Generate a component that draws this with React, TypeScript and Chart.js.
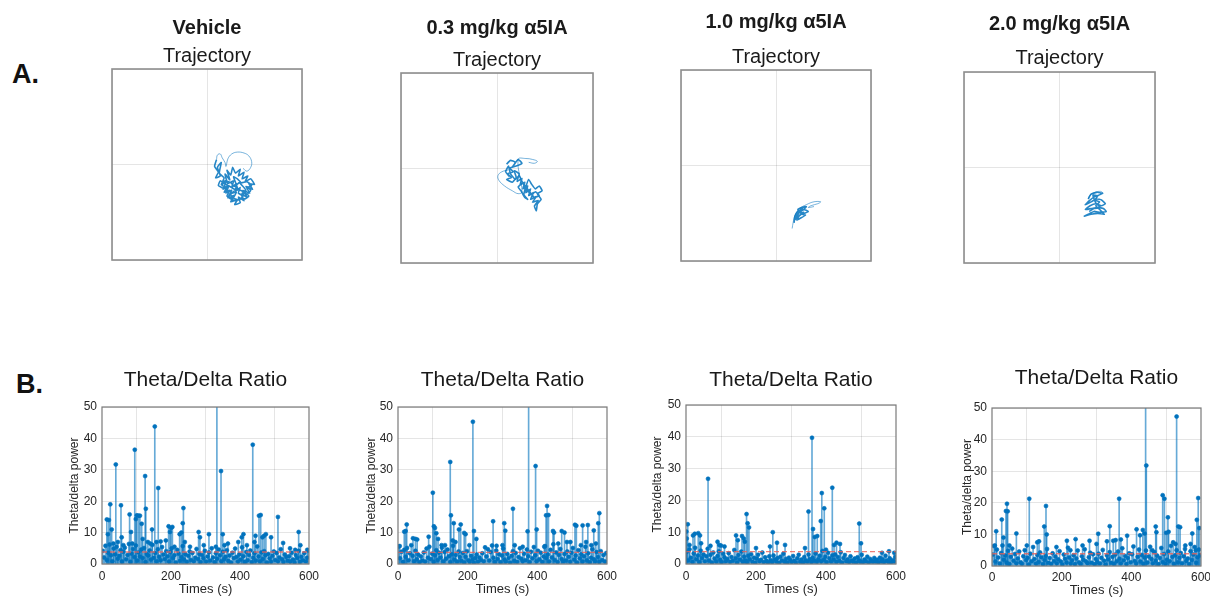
import React, { useEffect, useRef } from 'react';
import { Chart, registerables } from 'chart.js';

Chart.register(...registerables);

const FONT = '"Liberation Sans", Arial, Helvetica, sans-serif';
const BLUE = 'rgb(0,114,189)';
const TEXT = '#1a1a1a';
const TICK = '#262626';

// ---------------- text ----------------
const PANEL_LABELS = ['A.', 'B.'];
const DOSE_TITLES = ['Vehicle', '0.3 mg/kg α5IA', '1.0 mg/kg α5IA', '2.0 mg/kg α5IA'];
const TRAJ_TITLE = 'Trajectory';
const RATIO_TITLE = 'Theta/Delta Ratio';
const X_LABEL = 'Times (s)';
const Y_LABEL = 'Theta/delta power';

// ---------------- axis ranges / ticks ----------------
const TIME_MIN = 0;
const TIME_MAX = 600;
const TIME_TICK_STEP = 200;
const RATIO_MIN = 0;
const RATIO_MAX = 50;
const RATIO_TICK_STEP = 10;
const ARENA_MIN = -1;
const ARENA_MAX = 1;
const SAMPLE_STEP_S = 4; // baseline samples every 4 s, starting at 2 s

// ---------------- trajectories (arena coords, -1..1) ----------------
// dense core of each track
const TRAJ_VEHICLE_CORE: number[][] = [
  [0.1, 0.05], [0.08, -0.02], [0.12, -0.08], [0.09, -0.14], [0.14, -0.12], [0.11, -0.03], [0.15, 0.02], [0.13, -0.09],
  [0.18, -0.14], [0.15, -0.21], [0.2, -0.18], [0.17, -0.26], [0.23, -0.22], [0.2, -0.3], [0.26, -0.27], [0.22, -0.35],
  [0.29, -0.32], [0.25, -0.39], [0.32, -0.37], [0.29, -0.42], [0.35, -0.4], [0.33, -0.34], [0.39, -0.38], [0.36, -0.31],
  [0.42, -0.34], [0.38, -0.27], [0.45, -0.3], [0.41, -0.23], [0.48, -0.26], [0.44, -0.2], [0.5, -0.21], [0.46, -0.15],
  [0.4, -0.18], [0.43, -0.12], [0.37, -0.15], [0.39, -0.08], [0.33, -0.12], [0.35, -0.05], [0.3, -0.09], [0.27, -0.03],
  [0.25, -0.11], [0.21, -0.06], [0.24, -0.16], [0.19, -0.1], [0.22, -0.2], [0.28, -0.17], [0.26, -0.24], [0.31, -0.2],
  [0.3, -0.28], [0.35, -0.24], [0.33, -0.3], [0.38, -0.33], [0.34, -0.37], [0.28, -0.35], [0.31, -0.29], [0.25, -0.31],
  [0.27, -0.37], [0.21, -0.33], [0.24, -0.27], [0.18, -0.29], [0.21, -0.24], [0.16, -0.22], [0.19, -0.17], [0.25, -0.19],
  [0.29, -0.23], [0.34, -0.19], [0.37, -0.22], [0.41, -0.27], [0.37, -0.3], [0.42, -0.31], [0.46, -0.27], [0.43, -0.24],
  [0.47, -0.22], [0.42, -0.18], [0.36, -0.19], [0.32, -0.15], [0.28, -0.13], [0.32, -0.25], [0.27, -0.29], [0.23, -0.34],
  [0.3, -0.38], [0.36, -0.35], [0.4, -0.36], [0.44, -0.33], [0.39, -0.29], [0.35, -0.27], [0.29, -0.26], [0.24, -0.23],
  [0.2, -0.21], [0.14, -0.17], [0.12, -0.22], [0.17, -0.25],
];
// sparse excursions of each track
const TRAJ_VEHICLE_OUTER: number[][] = [
  [0.1, 0.05], [0.11, 0.1], [0.14, 0.11], [0.16, 0.07], [0.19, 0.02], [0.2, -0.02], [0.22, 0.06], [0.26, 0.11],
  [0.32, 0.13], [0.39, 0.12], [0.44, 0.09], [0.47, 0.03], [0.46, -0.03], [0.42, -0.07], [0.38, -0.04],
];

const TRAJ_03_CORE: number[][] = [
  [0.1, 0.04], [0.14, 0.08], [0.19, 0.06], [0.16, 0.01], [0.22, 0.09], [0.26, 0.05], [0.2, 0.02], [0.13, 0.0],
  [0.17, -0.04], [0.11, -0.06], [0.15, -0.1], [0.1, -0.12], [0.16, -0.15], [0.2, -0.1], [0.18, -0.03], [0.23, -0.06],
  [0.21, -0.14], [0.26, -0.11], [0.24, -0.18], [0.29, -0.15], [0.27, -0.22], [0.32, -0.19], [0.3, -0.26], [0.35, -0.22],
  [0.33, -0.29], [0.38, -0.26], [0.35, -0.33], [0.41, -0.3], [0.37, -0.36], [0.43, -0.34], [0.39, -0.4], [0.41, -0.45],
  [0.42, -0.38], [0.46, -0.33], [0.42, -0.27], [0.47, -0.24], [0.44, -0.19], [0.4, -0.22], [0.36, -0.17], [0.33, -0.12],
  [0.3, -0.2], [0.28, -0.28], [0.32, -0.33], [0.29, -0.31], [0.25, -0.24], [0.22, -0.2], [0.27, -0.16], [0.34, -0.25],
  [0.39, -0.31], [0.44, -0.29], [0.4, -0.25], [0.36, -0.28], [0.31, -0.23], [0.26, -0.14], [0.23, -0.08], [0.19, -0.12],
  [0.14, -0.06], [0.12, 0.02], [0.09, -0.04], [0.13, -0.09],
];
const TRAJ_03_OUTER: number[][] = [
  [0.12, -0.02], [0.05, -0.04], [0.01, -0.08], [0.02, -0.13], [0.08, -0.19], [0.16, -0.24], [0.22, -0.27], [0.26, -0.25],
  [0.22, 0.09], [0.3, 0.1], [0.37, 0.09], [0.42, 0.07], [0.39, 0.05], [0.33, 0.06],
];

const TRAJ_10_CORE: number[][] = [
  [0.19, -0.6], [0.2, -0.53], [0.23, -0.48], [0.28, -0.45], [0.24, -0.5], [0.21, -0.56], [0.24, -0.53], [0.29, -0.49],
  [0.25, -0.52], [0.22, -0.57], [0.26, -0.55], [0.31, -0.52], [0.27, -0.51], [0.23, -0.46], [0.27, -0.44], [0.32, -0.43],
  [0.28, -0.47], [0.25, -0.49], [0.3, -0.5], [0.34, -0.48], [0.29, -0.46], [0.22, -0.51], [0.2, -0.57],
];
const TRAJ_10_OUTER: number[][] = [
  [0.17, -0.66], [0.18, -0.6], [0.2, -0.52], [0.25, -0.45], [0.32, -0.41], [0.4, -0.38], [0.47, -0.38], [0.44, -0.4],
  [0.37, -0.42], [0.34, -0.44], [0.4, -0.43],
];

const TRAJ_20_CORE: number[][] = [
  [0.3, -0.33], [0.33, -0.28], [0.39, -0.26], [0.45, -0.27], [0.41, -0.29], [0.36, -0.31], [0.31, -0.35], [0.27, -0.39],
  [0.33, -0.36], [0.39, -0.33], [0.44, -0.34], [0.48, -0.38], [0.44, -0.4], [0.38, -0.38], [0.32, -0.4], [0.27, -0.44],
  [0.33, -0.43], [0.4, -0.42], [0.46, -0.43], [0.49, -0.46], [0.43, -0.47], [0.36, -0.46], [0.3, -0.49], [0.26, -0.51],
  [0.33, -0.49], [0.4, -0.48], [0.47, -0.49], [0.42, -0.44], [0.38, -0.4], [0.42, -0.36], [0.37, -0.34], [0.4, -0.3],
  [0.35, -0.29], [0.38, -0.37], [0.43, -0.42], [0.36, -0.43], [0.31, -0.46],
];
const TRAJ_20_OUTER: number[][] = [
  [0.3, -0.33], [0.32, -0.29], [0.37, -0.26], [0.43, -0.25], [0.46, -0.27],
];

// ---------------- theta/delta ratio: baseline samples (every 4 s) ----------------
const BASE_VEHICLE = [
  4.2, 2.1, 5.8, 1.3, 3.6, 6.2, 2.8, 0.9, 4.9, 3.1, 5.5, 1.7, 2.6, 4.4, 0.8,
  3.9, 5.2, 1.5, 2.9, 6.4, 0.7, 3.3, 4.8, 2.2, 5.9, 1.1, 3.7, 2.4, 4.6, 1.9,
  5.1, 0.6, 3.2, 2.7, 4.3, 1.4, 6.1, 2.0, 3.5, 0.9, 4.7, 2.3, 1.2, 5.4, 3.0,
  1.6, 4.1, 2.5, 0.8, 3.8, 5.0, 1.9, 2.8, 0.5, 4.5, 3.3, 1.0, 2.2, 5.7, 1.4,
  3.1, 0.7, 2.6, 4.0, 1.3, 3.5, 0.9, 2.0, 4.8, 1.6, 3.2, 0.6, 2.9, 1.8, 4.2,
  0.8, 2.4, 3.7, 1.1, 5.0, 2.1, 0.6, 3.4, 1.7, 4.6, 2.8, 0.9, 3.9, 1.5, 2.3,
  4.4, 1.0, 2.7, 0.5, 3.6, 1.9, 4.9, 2.2, 0.8, 3.0, 1.4, 5.3, 2.5, 0.7, 3.8,
  1.2, 2.9, 4.3, 0.6, 2.0, 3.4, 1.1, 5.6, 2.4, 0.9, 3.7, 1.6, 4.1, 2.8, 0.5,
  3.2, 1.8, 0.7, 2.6, 4.0, 1.3, 3.5, 0.9, 2.1, 4.7, 1.5, 0.6, 3.0, 2.2, 1.0,
  2.5, 0.8, 3.6, 1.4, 0.5, 2.9, 1.9, 4.2, 0.7, 2.3, 1.2, 3.4, 0.9, 2.0, 4.3,
];
const BASE_03 = [
  5.6, 1.8, 3.9, 0.7, 4.5, 2.3, 5.1, 1.2, 3.4, 6.0, 2.6, 0.9, 4.2, 1.5, 3.0,
  0.6, 2.4, 1.1, 3.7, 0.8, 4.9, 2.0, 5.5, 1.6, 3.3, 0.7, 2.8, 4.4, 1.3, 3.6,
  2.1, 5.2, 0.9, 3.8, 1.7, 4.6, 2.5, 0.6, 3.1, 5.8, 1.4, 2.9, 0.8, 4.0, 2.2,
  1.0, 3.5, 0.5, 2.3, 4.1, 1.2, 0.7, 2.6, 1.5, 0.4, 1.9, 3.0, 0.8, 2.1, 1.3,
  3.4, 0.9, 5.3, 2.4, 4.7, 1.1, 3.8, 5.9, 2.0, 0.7, 4.3, 1.6, 3.1, 0.6, 2.7,
  4.9, 1.4, 0.8, 3.2, 1.9, 0.5, 2.6, 4.1, 1.0, 3.5, 0.7, 2.2, 5.0, 1.7, 0.9,
  3.3, 1.2, 4.6, 2.5, 0.6, 3.9, 1.8, 5.4, 2.8, 0.9, 4.2, 1.5, 3.6, 0.7, 2.4,
  5.7, 1.9, 3.0, 0.8, 4.5, 2.1, 6.3, 1.3, 3.7, 0.6, 2.9, 4.8, 1.6, 0.9, 3.2,
  1.1, 4.0, 2.3, 0.7, 3.6, 5.1, 1.4, 2.7, 0.5, 4.4, 1.8, 3.1, 0.8, 2.5, 5.5,
  1.2, 3.4, 0.6, 2.0, 4.7, 1.5, 0.9, 3.8, 2.2, 0.7, 4.1, 1.3, 2.9, 0.8, 3.5,
];
const BASE_10 = [
  3.8, 1.2, 4.6, 2.0, 0.7, 3.3, 5.1, 1.5, 2.7, 0.6, 4.2, 1.9, 3.0, 0.9, 2.4,
  4.8, 1.1, 2.9, 0.5, 3.6, 1.7, 0.8, 2.5, 4.0, 1.3, 0.6, 3.2, 2.1, 0.9, 1.6,
  3.4, 0.7, 2.2, 1.0, 4.4, 1.8, 0.5, 2.8, 1.4, 3.9, 0.8, 2.3, 1.1, 0.6, 2.6,
  1.5, 3.1, 0.7, 2.0, 0.4, 1.7, 2.9, 0.9, 1.3, 3.6, 0.6, 2.1, 1.0, 0.5, 2.4,
  1.2, 0.6, 2.7, 1.5, 0.8, 1.9, 0.4, 2.3, 1.1, 3.2, 0.7, 1.6, 0.5, 2.0, 1.3,
  0.6, 2.5, 1.0, 0.4, 1.8, 2.9, 0.7, 1.4, 0.5, 2.2, 1.2, 0.8, 3.0, 1.6, 0.6,
  2.0, 1.1, 3.3, 0.7, 1.5, 2.6, 0.9, 4.1, 1.3, 2.3, 0.6, 3.5, 1.8, 0.8, 2.7,
  1.4, 3.0, 0.7, 2.2, 1.0, 3.7, 0.5, 1.9, 2.8, 0.9, 1.5, 0.6, 2.4, 1.1, 0.7,
  1.7, 0.5, 2.1, 1.2, 0.8, 2.9, 0.6, 1.4, 0.9, 2.3, 0.5, 1.6, 1.0, 0.7, 1.9,
  0.8, 1.3, 0.5, 2.0, 0.9, 1.5, 0.6, 2.6, 1.1, 0.7, 1.8, 0.5, 1.2, 0.9, 2.2,
];
const BASE_20 = [
  3.6, 6.3, 1.4, 5.2, 2.7, 0.8, 4.1, 6.5, 2.0, 3.3, 1.1, 4.8, 0.6, 2.9, 5.5,
  1.7, 3.8, 0.9, 2.4, 4.6, 1.2, 0.7, 3.1, 5.0, 1.9, 2.6, 0.5, 3.9, 1.5, 6.0,
  2.2, 0.8, 3.5, 1.3, 4.3, 2.8, 0.6, 1.9, 3.2, 5.4, 1.0, 2.5, 0.7, 4.0, 1.6,
  3.0, 0.9, 2.1, 4.7, 1.4, 0.5, 3.6, 2.3, 1.1, 5.8, 2.7, 0.8, 1.8, 3.4, 0.6,
  2.4, 4.9, 1.2, 0.7, 3.1, 2.0, 5.3, 1.5, 0.9, 2.8, 4.2, 1.0, 3.7, 0.6, 2.2,
  1.3, 3.9, 0.8, 2.6, 5.1, 1.7, 0.5, 3.3, 2.1, 4.4, 1.0, 2.9, 0.7, 3.6, 1.5,
  4.6, 2.3, 0.9, 5.6, 1.8, 3.2, 0.6, 2.5, 4.0, 1.2, 3.7, 6.2, 1.6, 0.8, 2.9,
  5.2, 1.4, 3.5, 0.7, 2.7, 4.9, 1.1, 3.0, 6.1, 2.2, 0.9, 4.4, 1.7, 3.3, 0.6,
  2.5, 5.7, 1.3, 3.8, 0.8, 2.0, 4.6, 1.5, 6.4, 2.9, 0.7, 3.4, 5.0, 1.2, 2.6,
  4.1, 0.9, 3.1, 5.4, 1.6, 2.4, 0.6, 4.7, 1.9, 3.6, 6.0, 1.0, 2.8, 5.2, 3.4,
];

// ---------------- theta/delta ratio: peaks [time s, ratio] ----------------
const PEAKS_VEHICLE: number[][] = [
  [14, 14.2], [17, 9.5], [20, 14.0], [24, 19.0], [28, 11.0], [33, 6.5], [40, 31.7], [46, 7], [55, 18.7], [57, 8.5],
  [62, 6], [80, 15.8], [84, 10.2], [88, 6.5], [95, 36.4], [98, 14.3], [101, 15.5], [106, 15.4], [110, 15.4], [115, 12.8],
  [118, 8], [125, 28.0], [127, 17.6], [133, 7], [140, 6.5], [145, 11.0], [153, 43.8], [158, 7], [163, 24.2], [170, 7.2],
  [185, 7.5], [193, 12.0], [197, 10.2], [200, 11.5], [204, 11.8], [210, 5.5], [225, 9.5], [230, 10], [234, 13.0], [236, 17.8],
  [240, 7], [255, 5.5], [280, 10.2], [284, 8.5], [295, 6], [310, 9.5], [330, 5.5], [333, 60], [345, 29.6], [350, 9.5],
  [355, 6], [365, 6.5], [395, 7], [405, 8.5], [410, 9.5], [420, 6], [437, 38.0], [442, 7], [445, 9.0], [455, 15.4],
  [460, 15.6], [465, 8.5], [470, 9.0], [475, 9.5], [490, 8.5], [510, 15.0], [525, 6.7], [545, 5], [560, 4.5], [570, 10.2],
  [575, 6], [595, 4.5],
];
const PEAKS_03: number[][] = [
  [5, 5.7], [18, 10.3], [22, 10.5], [25, 12.6], [43, 8.2], [50, 8], [55, 7.8], [88, 8.7], [100, 22.7], [103, 12],
  [106, 11.5], [110, 9.8], [115, 8], [125, 6], [135, 6], [150, 32.5], [152, 15.5], [157, 7.5], [160, 13], [165, 7],
  [175, 11], [180, 12.6], [190, 9.9], [194, 9.5], [205, 6], [215, 45.3], [218, 10.5], [225, 8], [273, 13.6], [283, 5.8],
  [300, 6], [305, 13], [308, 10.6], [330, 17.6], [335, 6], [358, 5.5], [372, 10.4], [375, 60], [395, 31.2], [398, 11],
  [420, 5.5], [425, 15.5], [428, 18.5], [432, 15.6], [445, 10.5], [448, 10], [460, 6.5], [470, 10.5], [478, 10], [485, 7],
  [495, 7], [508, 12.5], [512, 12.2], [525, 6], [530, 12.3], [540, 7], [545, 12.4], [555, 6], [562, 10.7], [568, 6.5],
  [575, 13], [578, 16.2],
];
const PEAKS_10: number[][] = [
  [1, 10.2], [2, 8], [5, 12.5], [10, 6], [20, 9], [25, 9.5], [35, 9.7], [40, 9], [43, 6.5], [63, 26.8],
  [70, 5.7], [90, 7], [95, 6], [100, 5.8], [110, 5.5], [143, 9], [148, 7.5], [160, 8.8], [165, 8], [168, 7],
  [173, 15.7], [176, 12.8], [180, 11.5], [200, 5], [240, 5.5], [248, 10], [260, 6.7], [283, 6], [340, 5], [350, 16.5],
  [360, 39.7], [363, 11], [368, 8.5], [375, 8.8], [385, 13.5], [388, 22.3], [395, 17.5], [400, 4.5], [418, 24], [423, 6],
  [430, 6.7], [440, 6.3], [495, 12.7], [500, 6.5], [560, 3.5], [580, 4], [595, 3.5],
];
const PEAKS_20: number[][] = [
  [8, 6.5], [12, 11], [28, 14.7], [33, 9], [40, 17.4], [43, 19.7], [45, 17.3], [50, 6.5], [70, 10.3], [100, 6.5],
  [107, 21.3], [130, 7.5], [135, 7.8], [150, 12.5], [155, 19], [157, 10], [185, 6], [215, 8], [225, 5], [240, 8.5],
  [260, 6.5], [280, 8], [300, 7], [305, 10.2], [330, 7.8], [338, 12.6], [348, 8], [355, 8.2], [365, 21.3], [370, 8.4],
  [388, 9.6], [415, 11.6], [425, 9.7], [433, 11.4], [438, 10.3], [441, 60], [443, 31.8], [460, 5], [470, 12.5], [472, 10.7],
  [490, 22.4], [495, 21.3], [500, 10.5], [505, 15.4], [507, 10.8], [520, 7.5], [527, 7], [530, 47.3], [535, 12.5], [540, 12.3],
  [555, 6.5], [570, 7], [575, 10.3], [585, 5], [588, 14.6], [592, 21.5], [595, 12],
];

// threshold (red dashed line) per group
const THRESHOLDS = [3.8, 3.7, 3.9, 3.9];

// ---------------- helpers ----------------
const framePlugin = {
  id: 'frame',
  afterDraw(chart: any, _args: any, opts: any) {
    const { ctx, chartArea: a } = chart;
    ctx.save();
    ctx.strokeStyle = opts.color || '#888';
    ctx.lineWidth = opts.width || 1;
    ctx.strokeRect(a.left, a.top, a.right - a.left, a.bottom - a.top);
    ctx.restore();
  },
};

function ChartBox(props: { left: number; top: number; width: number; height: number; make: () => any }) {
  const ref = useRef<HTMLCanvasElement>(null);
  useEffect(() => {
    const chart = new Chart(ref.current as HTMLCanvasElement, props.make());
    return () => chart.destroy();
  }, []);
  const { left, top, width, height } = props;
  return (
    <div style={{ position: 'absolute', left, top, width, height }}>
      <canvas ref={ref} width={width} height={height} style={{ width, height, display: 'block' }} />
    </div>
  );
}

type TrajPanel = {
  title: string; core: number[][]; outer: number[][];
  boxL: number; boxW: number; boxB: number;
  tPad: number; sPadT: number; sPadB: number;
};

const TRAJ_PANELS: TrajPanel[] = [
  { title: DOSE_TITLES[0], core: TRAJ_VEHICLE_CORE, outer: TRAJ_VEHICLE_OUTER, boxL: 112, boxW: 190, boxB: 260, tPad: 16, sPadT: 4, sPadB: 1 },
  { title: DOSE_TITLES[1], core: TRAJ_03_CORE, outer: TRAJ_03_OUTER, boxL: 401, boxW: 192, boxB: 263, tPad: 16, sPadT: 8, sPadB: 1 },
  { title: DOSE_TITLES[2], core: TRAJ_10_CORE, outer: TRAJ_10_OUTER, boxL: 681, boxW: 190, boxB: 261, tPad: 10, sPadT: 11, sPadB: 1 },
  { title: DOSE_TITLES[3], core: TRAJ_20_CORE, outer: TRAJ_20_OUTER, boxL: 964, boxW: 191, boxB: 263, tPad: 12, sPadT: 10, sPadB: 2 },
];

const SIDE = 20;
const BOT = 2;

function trajConfig(p: TrajPanel) {
  const axisCommon = {
    type: 'linear',
    min: ARENA_MIN,
    max: ARENA_MAX,
    ticks: { display: false, stepSize: 1 },
    grid: { color: 'rgba(0,0,0,0.1)', drawTicks: false, lineWidth: 1 },
    border: { display: false },
  };
  return {
    type: 'scatter',
    data: {
      datasets: [
        {
          data: p.core.map(([x, y]) => ({ x, y })),
          showLine: true,
          borderColor: 'rgba(0,114,189,0.85)',
          borderWidth: 1.6,
          pointRadius: 0,
          tension: 0.15,
        },
        {
          data: p.outer.map(([x, y]) => ({ x, y })),
          showLine: true,
          borderColor: 'rgba(0,114,189,0.6)',
          borderWidth: 0.9,
          pointRadius: 0,
          tension: 0.4,
        },
      ],
    },
    options: {
      responsive: false,
      animation: false,
      devicePixelRatio: 1,
      layout: { padding: { left: SIDE, right: SIDE, top: 0, bottom: BOT } },
      plugins: {
        legend: { display: false },
        tooltip: { enabled: false },
        title: {
          display: true, text: p.title, color: TEXT, fullSize: false,
          font: { family: FONT, size: 20, weight: 'bold', lineHeight: 1.2 },
          padding: { top: p.tPad, bottom: 0 },
        },
        subtitle: {
          display: true, text: TRAJ_TITLE, color: TEXT, fullSize: false,
          font: { family: FONT, size: 20, weight: 'normal', lineHeight: 1.2 },
          padding: { top: p.sPadT, bottom: p.sPadB },
        },
        frame: { color: '#8e8e8e', width: 1.6 },
      },
      scales: {
        x: { ...axisCommon, afterFit: (s: any) => { s.height = 0; s.paddingLeft = 0; s.paddingRight = 0; } },
        y: { ...axisCommon, afterFit: (s: any) => { s.width = 0; s.paddingTop = 0; s.paddingBottom = 0; } },
      },
    },
    plugins: [framePlugin],
  };
}

type RatioPanel = {
  base: number[]; peaks: number[][]; threshold: number;
  canvasL: number; canvasT: number; plotL: number; plotR: number; plotT: number; plotB: number; canvasR: number;
  tPad: number; yTitleX: number; xTickY: number; xTitleY: number;
};

const RATIO_PANELS: RatioPanel[] = [
  { base: BASE_VEHICLE, peaks: PEAKS_VEHICLE, threshold: THRESHOLDS[0], canvasL: 60, canvasT: 360, plotL: 102, plotR: 309, plotT: 407, plotB: 564, canvasR: 325, tPad: 8, yTitleX: 75, xTickY: 577, xTitleY: 589 },
  { base: BASE_03, peaks: PEAKS_03, threshold: THRESHOLDS[1], canvasL: 356, canvasT: 360, plotL: 398, plotR: 607, plotT: 407, plotB: 564, canvasR: 623, tPad: 8, yTitleX: 372, xTickY: 577, xTitleY: 589 },
  { base: BASE_10, peaks: PEAKS_10, threshold: THRESHOLDS[2], canvasL: 644, canvasT: 360, plotL: 686, plotR: 896, plotT: 405, plotB: 564, canvasR: 912, tPad: 8, yTitleX: 658, xTickY: 577, xTitleY: 589 },
  { base: BASE_20, peaks: PEAKS_20, threshold: THRESHOLDS[3], canvasL: 950, canvasT: 360, plotL: 992, plotR: 1201, plotT: 408, plotB: 566, canvasR: 1210, tPad: 6, yTitleX: 968, xTickY: 578, xTitleY: 590 },
];

const CANVAS_BOTTOM = 598;

function ratioConfig(p: RatioPanel) {
  const pts = p.base
    .map((v, i) => ({ x: i * SAMPLE_STEP_S + SAMPLE_STEP_S / 2, y: v }))
    .concat(p.peaks.map(([t, v]) => ({ x: t, y: v })));
  const titleFont = { family: FONT, size: 21, weight: 'normal', lineHeight: 1.2 };
  const titleLH = 21 * 1.2;
  const relTop = p.plotT - p.canvasT;
  const titlePadBottom = Math.max(0, relTop - p.tPad - titleLH);
  const xAxisH = CANVAS_BOTTOM - p.plotB;
  const yAxisW = p.plotL - p.canvasL;
  const tickFont = { family: FONT, size: 12, lineHeight: 1.2 };
  const xTitleFont = { family: FONT, size: 13, lineHeight: 1.2 };
  const yTitleFont = { family: FONT, size: 12, lineHeight: 1.2 };
  return {
    type: 'scatter',
    data: {
      datasets: [
        {
          type: 'line',
          data: [{ x: TIME_MIN, y: p.threshold }, { x: TIME_MAX, y: p.threshold }],
          borderColor: 'rgba(232,96,88,0.8)',
          borderDash: [5, 3],
          borderWidth: 1.4,
          pointRadius: 0,
        },
        {
          type: 'scatter',
          data: pts,
          pointRadius: 2,
          backgroundColor: BLUE,
          borderColor: BLUE,
          borderWidth: 0.6,
        },
        {
          type: 'bar',
          data: pts,
          backgroundColor: 'rgba(0,114,189,0.6)',
          barThickness: 1,
          grouped: false,
        },
      ],
    },
    options: {
      responsive: false,
      animation: false,
      devicePixelRatio: 1,
      layout: { padding: { left: 0, right: p.canvasR - p.plotR, top: 0, bottom: 0 } },
      plugins: {
        legend: { display: false },
        tooltip: { enabled: false },
        title: {
          display: true, text: RATIO_TITLE, color: TEXT, fullSize: false,
          font: titleFont, padding: { top: p.tPad, bottom: titlePadBottom },
        },
        frame: { color: '#7a7a7a', width: 1.2 },
      },
      scales: {
        x: {
          type: 'linear', min: TIME_MIN, max: TIME_MAX, offset: false,
          ticks: { stepSize: TIME_TICK_STEP, color: TICK, font: tickFont, padding: p.xTickY - p.plotB - 7.2, maxRotation: 0, autoSkip: false },
          grid: { color: 'rgba(0,0,0,0.1)', drawTicks: false },
          border: { display: false },
          title: {
            display: true, text: X_LABEL, color: TICK, font: xTitleFont,
            padding: { top: 0, bottom: Math.max(0, CANVAS_BOTTOM - p.xTitleY - 7.8) },
          },
          afterFit: (s: any) => { s.height = xAxisH; s.paddingLeft = 0; s.paddingRight = 0; },
        },
        y: {
          type: 'linear', min: RATIO_MIN, max: RATIO_MAX,
          ticks: { stepSize: RATIO_TICK_STEP, color: TICK, font: tickFont, padding: 5 },
          grid: { color: 'rgba(0,0,0,0.1)', drawTicks: false },
          border: { display: false },
          title: {
            display: true, text: Y_LABEL, color: TICK, font: yTitleFont,
            padding: { top: p.yTitleX - p.canvasL - 7.2, bottom: 0 },
          },
          afterFit: (s: any) => { s.width = yAxisW; s.paddingTop = 0; s.paddingBottom = 0; },
        },
      },
    },
    plugins: [framePlugin],
  };
}

export default function App() {
  return (
    <div style={{ position: 'absolute', left: 0, top: 0, width: 1210, height: 598, background: '#fff', overflow: 'hidden', fontFamily: FONT }}>
      <div style={{ position: 'absolute', left: 12, top: 61, fontSize: 27, lineHeight: '27px', fontWeight: 'bold', color: '#111' }}>{PANEL_LABELS[0]}</div>
      <div style={{ position: 'absolute', left: 16, top: 371, fontSize: 27, lineHeight: '27px', fontWeight: 'bold', color: '#111' }}>{PANEL_LABELS[1]}</div>
      {TRAJ_PANELS.map((p, i) => (
        <ChartBox key={'t' + i} left={p.boxL - SIDE} top={0} width={p.boxW + 2 * SIDE} height={p.boxB + BOT} make={() => trajConfig(p)} />
      ))}
      {RATIO_PANELS.map((p, i) => (
        <ChartBox key={'r' + i} left={p.canvasL} top={p.canvasT} width={p.canvasR - p.canvasL} height={CANVAS_BOTTOM - p.canvasT} make={() => ratioConfig(p)} />
      ))}
    </div>
  );
}
